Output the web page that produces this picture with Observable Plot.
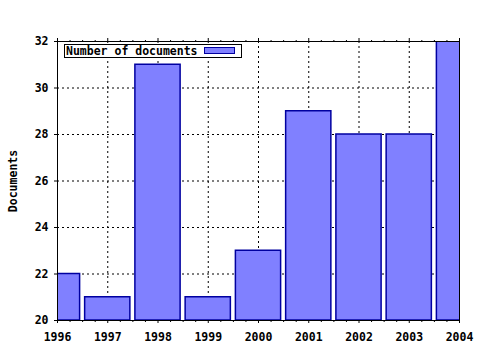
<!DOCTYPE html>
<html>
<head>
<meta charset="utf-8">
<script src="https://cdn.jsdelivr.net/npm/d3@7"></script>
<script src="https://cdn.jsdelivr.net/npm/@observablehq/plot@0.6"></script>
<style>
  html, body { margin: 0; padding: 0; background: #fff; }
  #wrap { position: relative; width: 480px; height: 350px; font-family: "DejaVu Sans Mono", monospace; font-weight: bold; }
  #legend { position: absolute; left: 64px; top: 44px; width: 176px; height: 12px; border: 1px solid #000; background: #fff; font-size: 11.5px; line-height: 12px; }
  #legend span { position: absolute; left: 1px; top: 0; }
  #legend i { position: absolute; left: 139px; top: 2px; width: 29px; height: 5px; background: #8080ff; border: 1px solid #0000a0; }
</style>
</head>
<body>
<div id="wrap"></div>
<script>
const years = [1996, 1997, 1998, 1999, 2000, 2001, 2002, 2003, 2004];
const documents = [22, 21, 31, 21, 23, 29, 28, 28, 32];
const yTicks = [20, 22, 24, 26, 28, 30, 32];
const seriesName = "Number of documents";
const yLabel = "Documents";

const data = years.map((year, i) => ({year, value: documents[i]}));
const minorTicks = d3.range(years[0], years[years.length - 1] + 0.001, 0.25).filter(t => !years.includes(t));

const font = {fontFamily: "DejaVu Sans Mono", fontWeight: "bold", fontSize: 11.5};

const chart = Plot.plot({
  width: 480,
  height: 350,
  marginLeft: 57,
  marginRight: 21,
  marginTop: 41,
  marginBottom: 30,
  style: {fontFamily: "DejaVu Sans Mono", fontWeight: "bold", fontSize: "11.5px", color: "#000", background: "#fff"},
  x: {type: "linear", domain: [years[0], years[years.length - 1]]},
  y: {domain: [yTicks[0], yTicks[yTicks.length - 1]]},
  marks: [
    Plot.gridX(years, {stroke: "#000", strokeOpacity: 1, strokeDasharray: "2,3"}),
    Plot.gridY(yTicks, {stroke: "#000", strokeOpacity: 1, strokeDasharray: "2,3"}),
    Plot.rectY(data, {
      x1: d => d.year - 0.45,
      x2: d => d.year + 0.45,
      y1: yTicks[0],
      y2: "value",
      fill: "#8080ff",
      stroke: "#0000a0",
      strokeWidth: 1.5,
      clip: true
    }),
    Plot.frame({stroke: "#000"}),
    Plot.axisX({anchor: "bottom", ticks: years, tickFormat: "d", tickSize: 3, tickPadding: 9, label: null, ...font}),
    Plot.axisX({anchor: "bottom", ticks: minorTicks, tickSize: 2, tickFormat: () => "", label: null}),
    Plot.axisX({anchor: "top", ticks: years, tickSize: 4, tickFormat: () => "", label: null}),
    Plot.axisX({anchor: "top", ticks: minorTicks, tickSize: 2, tickFormat: () => "", label: null}),
    Plot.axisY({anchor: "left", ticks: yTicks, tickSize: 3, tickPadding: 6, label: yLabel, labelAnchor: "center", labelArrow: "none", labelOffset: 49, ...font})
  ]
});

const wrap = document.getElementById("wrap");
wrap.appendChild(chart);
const legend = document.createElement("div");
legend.id = "legend";
legend.innerHTML = `<span></span><i></i>`;
legend.querySelector("span").textContent = seriesName;
wrap.appendChild(legend);
</script>
</body>
</html>
